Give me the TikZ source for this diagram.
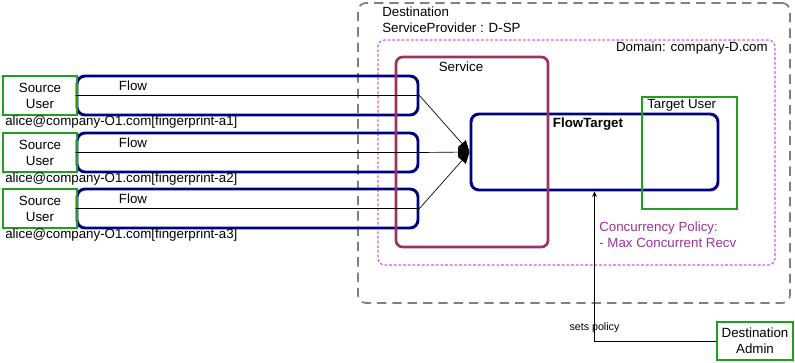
\documentclass[tikz,border=0pt]{standalone}
\usepackage{fontspec}
\setmainfont{Liberation Sans}
\usetikzlibrary{arrows.meta}
\definecolor{flowc}{HTML}{000080}
\definecolor{svcc}{HTML}{993366}
\definecolor{userc}{HTML}{1FA01F}
\definecolor{domc}{HTML}{CC55FF}
\definecolor{polc}{HTML}{993399}
\definecolor{destc}{HTML}{808080}
\tikzset{
  user/.style={draw=userc,line width=1.2pt,minimum width=55.5pt,minimum height=29.25pt,align=center,inner sep=0pt},
  flowbox/.style={draw=flowc,line width=2.2pt,rounded corners=6pt,minimum width=255.75pt,minimum height=29.25pt},
  lbl/.style={inner sep=0pt,align=left},
  fl/.style={-{Triangle[length=8.5pt,width=7.5pt]},line width=0.5pt}
}

\begin{document}
\begin{tikzpicture}[x=0.75pt,y=-0.75pt,font=\fontsize{10}{12}\selectfont]
\useasboundingbox (0,0) rectangle (795,362);
% provider and domain frames
\node[draw=destc,line width=1.3pt,dash pattern=on 7pt off 4.5pt,rounded corners=6pt,
  minimum width=324pt,minimum height=225pt] (dest) at (574,153) {};
\node[lbl,anchor=west] (destlbl) at (382,20) {Destination\\ServiceProvider : D-SP};
\node[draw=domc,line width=0.9pt,dash pattern=on 2pt off 1.5pt,rounded corners=5pt,
  minimum width=297.75pt,minimum height=168.75pt] (domain) at (576.5,152.5) {};
\node[lbl,anchor=east] (domlbl) at (768,48) {Domain: company-D.com};
% flows from the three senders
\foreach \i/\y in {1/95.5,2/152.5,3/208.5}{
  \node[flowbox] (flow\i) at (247.5,\y) {};
  \node[lbl] (flowlbl\i) at (133,\y-10) {Flow};
  \node[user] (src\i) at (40,\y) {Source\\User};
  \node[lbl,anchor=west] (mail\i) at (5,\y+26.5) {alice@company-O1.com[fingerprint-a\i]};
}
\node[draw=flowc,line width=2.2pt,rounded corners=6pt,minimum width=185.25pt,minimum height=57pt] (ftarget) at (594.5,152) {};
\node[lbl,font=\fontsize{10}{12}\selectfont\bfseries] (ftlbl) at (588,124) {FlowTarget};
\node[draw=svcc,line width=2pt,rounded corners=5pt,minimum width=114pt,minimum height=142.5pt] (service) at (472,152) {};
\node[lbl] (svclbl) at (461,67) {Service};
\node[draw=userc,line width=1.2pt,minimum width=71.25pt,minimum height=84pt] (tuser) at (689.5,153) {};
\node[lbl,anchor=west] (tulbl) at (647,105) {Target User};
\node[lbl,anchor=west,text=polc] (policy) at (599,235) {Concurrency Policy:\\- Max Concurrent Recv};
\node[user,minimum width=57pt,minimum height=28.5pt] (admin) at (755,341) {Destination\\Admin};
% connectors
\foreach \i in {1,2,3}
  \draw[fl] (flow\i.west) -- (flow\i.east) -- (ftarget.west);
\draw[-{Stealth[length=4pt,width=3.5pt]},line width=0.5pt] (admin.west) -| node[pos=0.545,font=\fontsize{8}{9}\selectfont,inner sep=0pt] {sets policy} (ftarget.south);
\end{tikzpicture}
\end{document}
